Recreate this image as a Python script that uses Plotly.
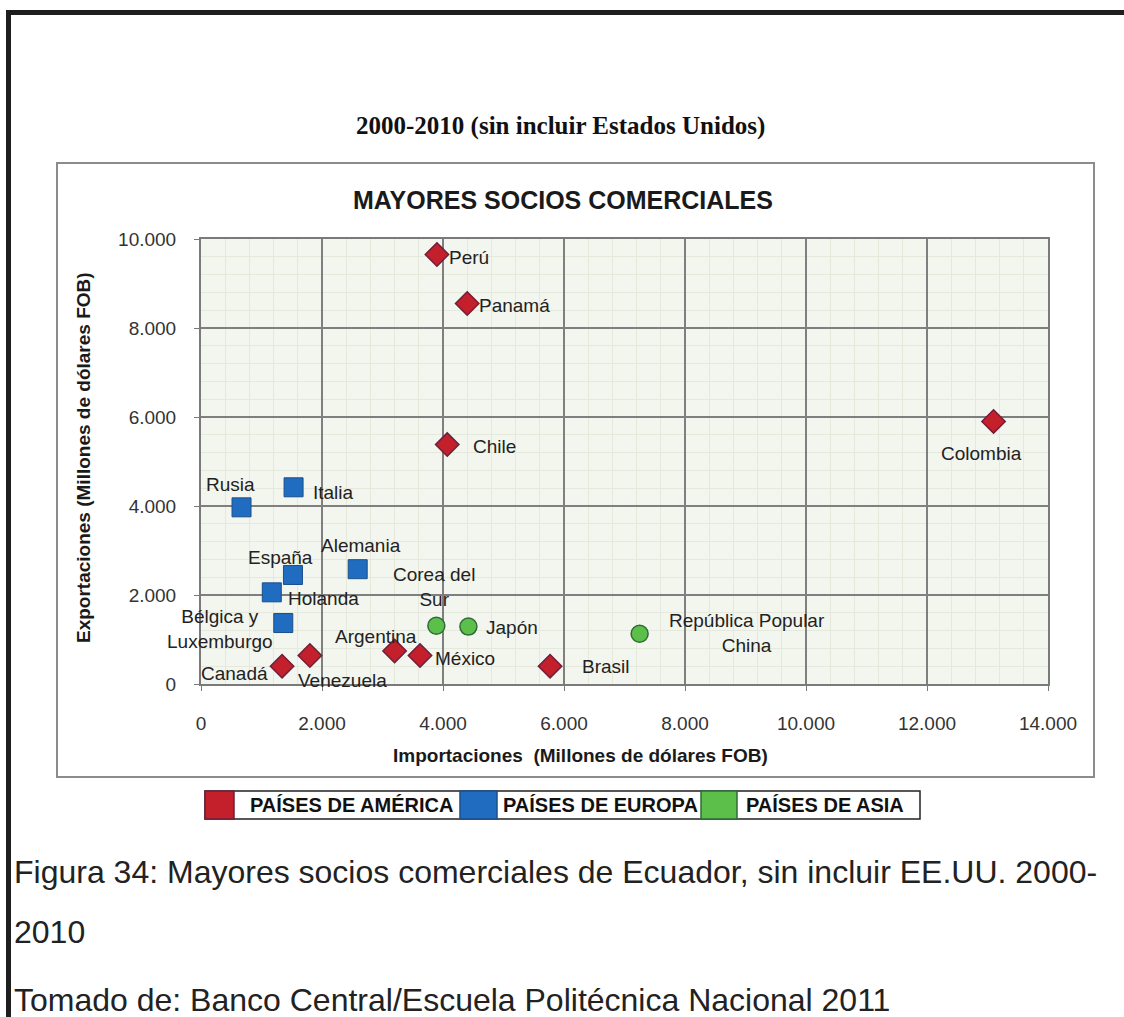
import plotly.graph_objects as go

# ---------------- data ----------------
america_names = ["Perú", "Panamá", "Chile", "Colombia", "Argentina", "México", "Venezuela", "Canadá", "Brasil"]
america_imp = [3900, 4400, 4070, 13100, 3200, 3620, 1800, 1340, 5770]
america_exp = [9650, 8550, 5380, 5900, 740, 640, 640, 400, 400]

europa_names = ["Rusia", "Italia", "Alemania", "España", "Holanda", "Bélgica y<br>Luxemburgo"]
europa_imp = [670, 1530, 2590, 1520, 1170, 1360]
europa_exp = [3970, 4420, 2580, 2450, 2060, 1370]

asia_names = ["Corea del<br>Sur", "Japón", "República Popular<br>China"]
asia_imp = [3890, 4420, 7250]
asia_exp = [1310, 1290, 1130]

x_ticks = [0, 2000, 4000, 6000, 8000, 10000, 12000, 14000]
x_tick_labels = ["0", "2.000", "4.000", "6.000", "8.000", "10.000", "12.000", "14.000"]
y_ticks = [0, 2000, 4000, 6000, 8000, 10000]
y_tick_labels = ["0", "2.000", "4.000", "6.000", "8.000", "10.000"]

legend_labels = ["PAÍSES DE AMÉRICA", "PAÍSES DE EUROPA", "PAÍSES DE ASIA"]

caption_lines = ["Figura 34: Mayores socios comerciales de Ecuador, sin incluir EE.UU. 2000-",
                 "2010",
                 "Tomado de: Banco Central/Escuela Politécnica Nacional 2011"]

# ---------------- styles ----------------
W, H = 1124, 1017
PL, PR, PT, PB = 201, 1048, 239, 684   # plot area in pixels
FONT = "Liberation Sans, Arial, sans-serif"

def px(xp):
    return (xp - PL) / (PR - PL)

def py(yp):
    return (PB - yp) / (PB - PT)

# label offsets (xshift, yshift, xanchor)
america_off = [(10, -3, "left"), (10, -2, "left"), (24, -2, "left"), (-12, -32, "center"),
               (-19, 15, "center"), (13, -3, "left"), (33, -25, "center"), (-48, -7, "center"),
               (30, 0, "left")]
europa_off = [(-11, 23, "center"), (17, -5, "left"), (3, 24, "center"), (-12, 17, "center"),
              (14, -6, "left"), (-8, -6, "right")]
asia_off = [(-2, 39, "center"), (16, -1, "left"), (107, 1, "center")]

RED, RED_LINE = "#c3202c", "#6e1f3c"
BLUE, BLUE_LINE = "#1f6cc0", "#1b4f8a"
GREEN, GREEN_LINE = "#5cbf4a", "#2f6b3a"

fig = go.Figure()
fig.add_trace(go.Scatter(x=america_imp, y=america_exp, mode="markers", name=legend_labels[0],
                         marker=dict(symbol="diamond", size=18, color=RED,
                                     line=dict(color=RED_LINE, width=1.5))))
fig.add_trace(go.Scatter(x=europa_imp, y=europa_exp, mode="markers", name=legend_labels[1],
                         marker=dict(symbol="square", size=19, color=BLUE,
                                     line=dict(color=BLUE_LINE, width=1))))
fig.add_trace(go.Scatter(x=asia_imp, y=asia_exp, mode="markers", name=legend_labels[2],
                         marker=dict(symbol="circle", size=17, color=GREEN,
                                     line=dict(color=GREEN_LINE, width=1.5))))

annotations = []
for names, xs, ys, offs in [(america_names, america_imp, america_exp, america_off),
                            (europa_names, europa_imp, europa_exp, europa_off),
                            (asia_names, asia_imp, asia_exp, asia_off)]:
    for n, xv, yv, (dx, dy, anc) in zip(names, xs, ys, offs):
        annotations.append(dict(x=xv, y=yv, xref="x", yref="y", text=n, showarrow=False,
                                xanchor=anc, yanchor="middle", xshift=dx, yshift=dy,
                                align="center",
                                font=dict(family=FONT, size=19, color="#222222")))

# titles
annotations.append(dict(x=px(560), y=py(126), xref="paper", yref="paper",
                        text="<b>2000-2010 (sin incluir Estados Unidos)</b>", showarrow=False,
                        xanchor="center", yanchor="middle",
                        font=dict(family="Liberation Serif, Times New Roman, serif", size=25, color="#111")))
annotations.append(dict(x=px(563), y=py(200), xref="paper", yref="paper",
                        text="<b>MAYORES SOCIOS COMERCIALES</b>", showarrow=False,
                        xanchor="center", yanchor="middle",
                        font=dict(family=FONT, size=25, color="#1a1a1a")))
annotations.append(dict(x=px(580), y=py(755), xref="paper", yref="paper",
                        text="<b>Importaciones  (Millones de dólares FOB)</b>", showarrow=False,
                        xanchor="center", yanchor="middle",
                        font=dict(family=FONT, size=19, color="#1a1a1a")))
annotations.append(dict(x=px(83), y=py(458), xref="paper", yref="paper",
                        text="<b>Exportaciones (Millones de dólares FOB)</b>", showarrow=False,
                        textangle=-90, xanchor="center", yanchor="middle",
                        font=dict(family=FONT, size=19, color="#1a1a1a")))

# legend table text
leg_text_x = [248, 501, 744]
for t, lx in zip(legend_labels, leg_text_x):
    annotations.append(dict(x=px(lx), y=py(805), xref="paper", yref="paper",
                            text="<b>" + t + "</b>", showarrow=False,
                            xanchor="left", yanchor="middle",
                            font=dict(family=FONT, size=20, color="#111")))

# caption
cap_font = dict(family=FONT, size=32, color="#222")
for txt, yy in zip(caption_lines, [872, 932, 1000]):
    annotations.append(dict(x=px(12), y=py(yy), xref="paper", yref="paper", text=txt,
                            showarrow=False, xanchor="left", yanchor="middle", font=cap_font))

shapes = []
# black frame (top + left)
shapes.append(dict(type="rect", xref="paper", yref="paper", x0=px(6), x1=px(1124), y0=py(10), y1=py(15),
                   fillcolor="#1e1e1e", line=dict(width=0), layer="above"))
shapes.append(dict(type="rect", xref="paper", yref="paper", x0=px(6), x1=px(11), y0=py(10), y1=py(1017),
                   fillcolor="#1e1e1e", line=dict(width=0), layer="above"))
# chart box
shapes.append(dict(type="rect", xref="paper", yref="paper", x0=px(57), x1=px(1094), y0=py(163), y1=py(777),
                   fillcolor="rgba(0,0,0,0)", line=dict(color="#8c8c8c", width=2), layer="below"))
# legend table
cells = [(205, 234, RED, RED_LINE), (460, 497, BLUE, BLUE_LINE), (701, 737, GREEN, GREEN_LINE)]
shapes.append(dict(type="rect", xref="paper", yref="paper", x0=px(205), x1=px(920), y0=py(791), y1=py(819),
                   fillcolor="white", line=dict(color="#222", width=1.5), layer="above"))
for x0, x1, c, lc in cells:
    shapes.append(dict(type="rect", xref="paper", yref="paper", x0=px(x0), x1=px(x1), y0=py(791), y1=py(819),
                       fillcolor=c, line=dict(color=lc, width=1.5), layer="above"))

fig.update_layout(
    width=W, height=H, autosize=False,
    margin=dict(l=PL, r=W - PR, t=PT, b=H - PB, pad=0),
    paper_bgcolor="white", plot_bgcolor="#f3f6ee",
    showlegend=False,
    annotations=annotations, shapes=shapes,
    xaxis=dict(range=[0, 14000], tickvals=x_ticks, ticktext=x_tick_labels,
               showgrid=True, gridcolor="#7f7f7f", gridwidth=1.5,
               minor=dict(dtick=400, showgrid=True, gridcolor="#e4e9dc", gridwidth=1),
               showline=True, linecolor="#7a7a7a", linewidth=2, mirror=True,
               ticks="outside", ticklen=5, tickcolor="#7a7a7a", zeroline=False,
               ticklabelstandoff=16,
               tickfont=dict(family=FONT, size=19, color="#333")),
    yaxis=dict(range=[0, 10000], tickvals=y_ticks, ticktext=y_tick_labels,
               showgrid=True, gridcolor="#7f7f7f", gridwidth=1.5,
               minor=dict(dtick=400, showgrid=True, gridcolor="#e4e9dc", gridwidth=1),
               showline=True, linecolor="#7a7a7a", linewidth=2, mirror=True,
               ticks="outside", ticklen=5, tickcolor="#7a7a7a", zeroline=False,
               ticklabelstandoff=14,
               tickfont=dict(family=FONT, size=19, color="#333")),
)

fig.write_html("out.html", config={"displayModeBar": False},
               post_script="document.body.style.margin='0px';")
